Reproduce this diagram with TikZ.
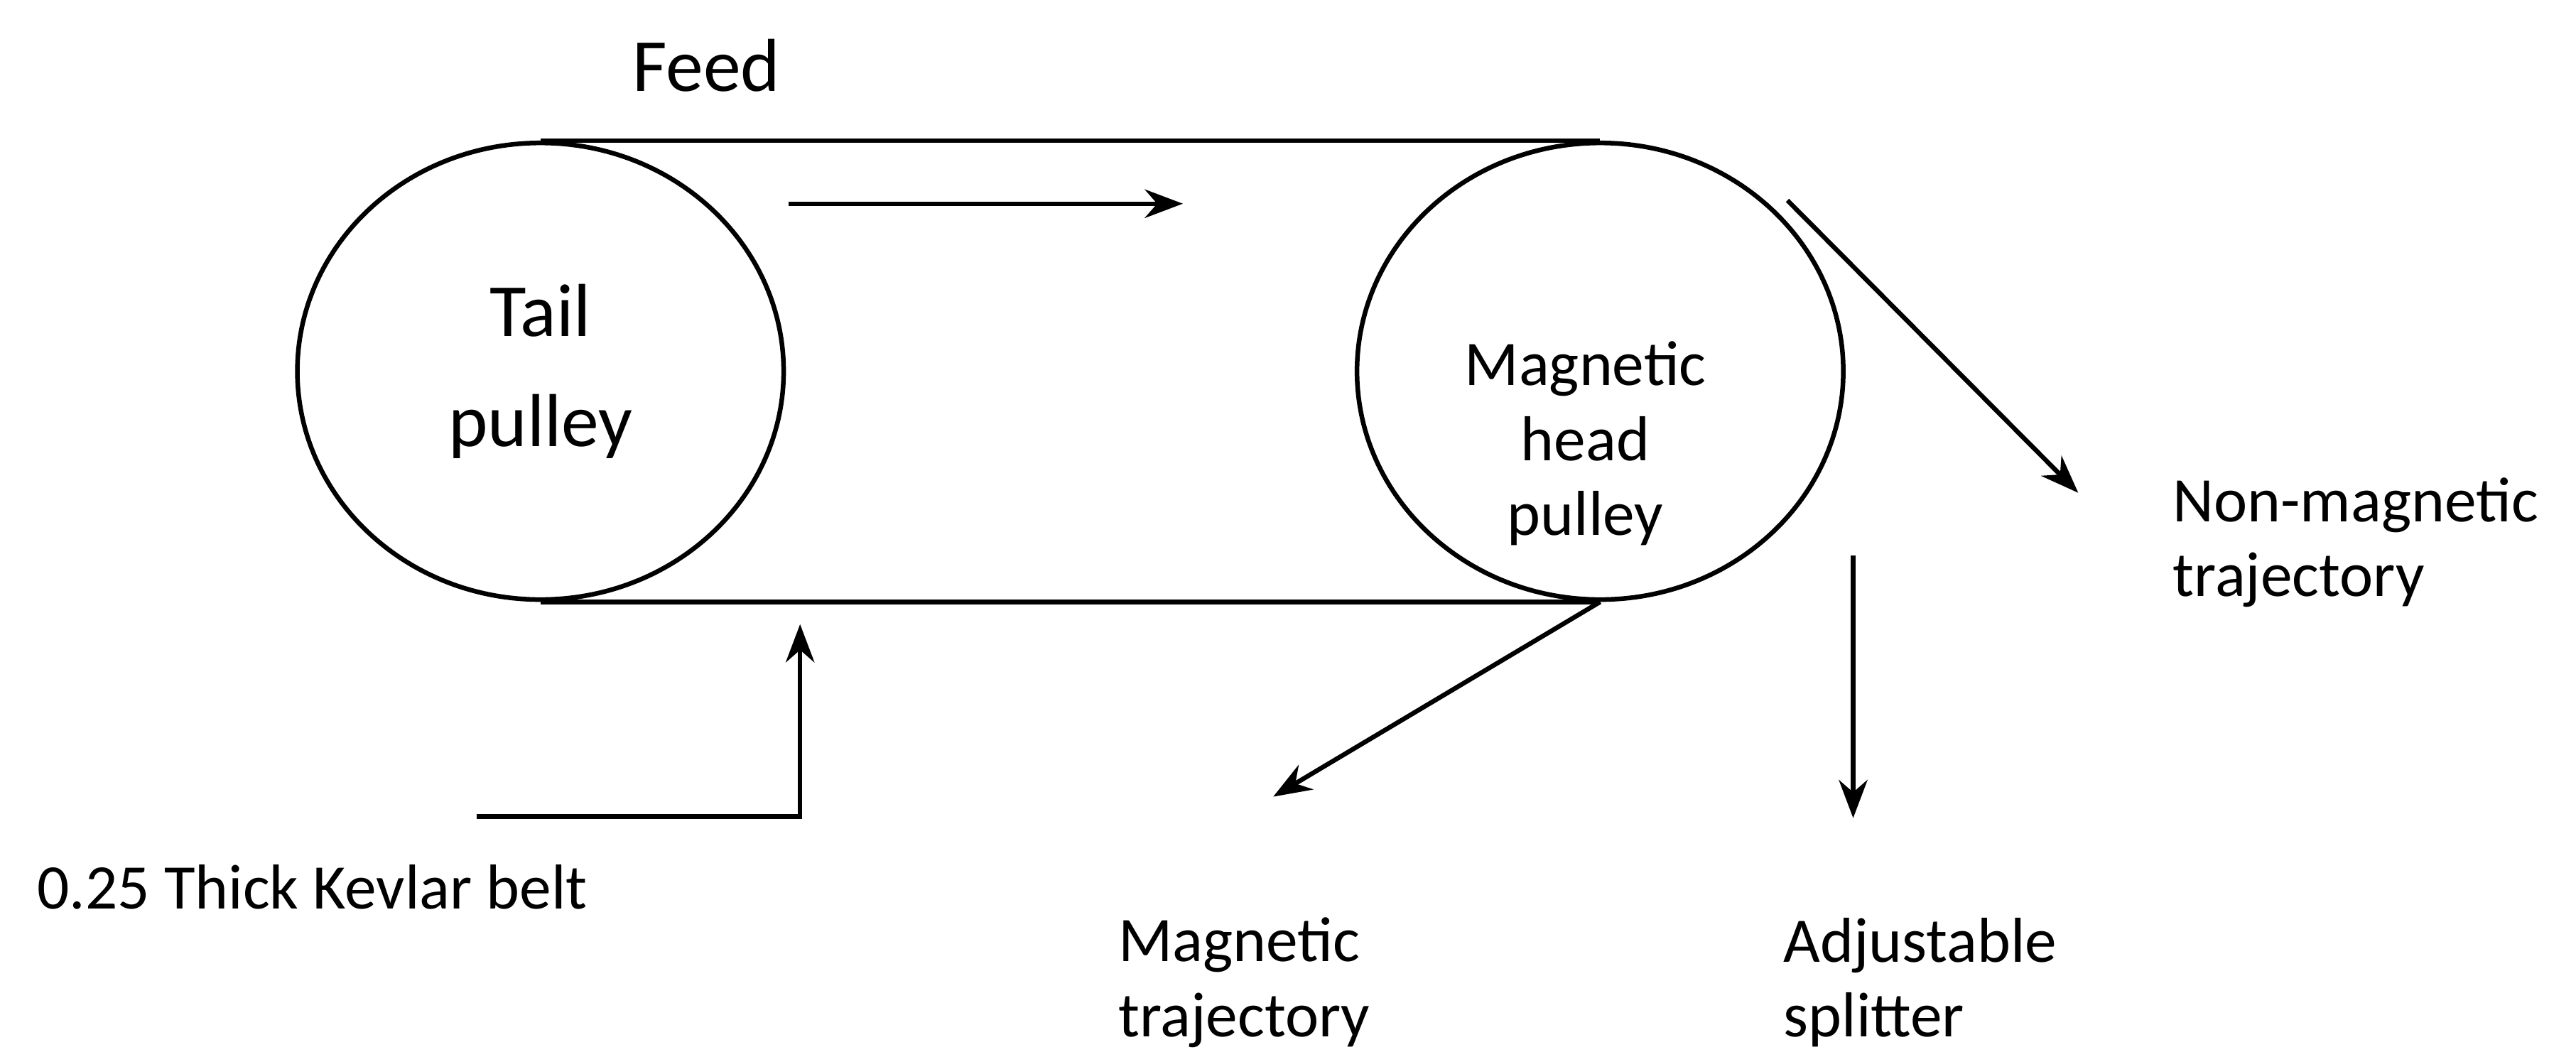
\documentclass[tikz,border=0pt]{standalone}
\usepackage{fontspec}
\setmainfont{Carlito}
\usetikzlibrary{arrows.meta, positioning, shapes.geometric}
\begin{document}
\begin{tikzpicture}[x=1cm, y=1cm,
  pulley/.style={draw, ellipse, thick, minimum width=2.96cm, minimum height=2.78cm},
  belt/.style={thick},
  flow/.style={->, >=Stealth, thick},
  lab/.style={align=left, font=\fontsize{11}{13}\selectfont, inner sep=0pt}]
\useasboundingbox (0,0) rectangle (15.68,6.40);
\node (Tail) [pulley, align=center, font=\fontsize{13}{19}\selectfont] at (3.29,4.14) {Tail\\pulley};
\node (Head) [pulley, align=center, font=\fontsize{11}{13}\selectfont] at (9.74,4.14) {};
\node (HeadTxt) [align=center, font=\fontsize{11}{13}\selectfont] at (9.65,3.70) {Magnetic\\head\\pulley};
\node (Feed) [font=\fontsize{13}{15}\selectfont] at (4.30,6.00) {Feed};
\draw[belt] (Tail.north) -- (Head.north);
\draw[belt] (Tail.south) -- (Head.south);
\coordinate (fa) at (4.80,5.16);
\coordinate (fb) at (7.20,5.16);
\draw[flow] (fa) -- (fb);
% discharge
\coordinate (top) at (10.88,5.18);
\node (NonMag) [lab, anchor=north west] at (13.22,3.50) {Non-magnetic\\trajectory};
\coordinate (nm) at (12.65,3.40);
\draw[flow] (top) -- (nm);
\node (Mag) [lab, anchor=north west] at (6.80,0.82) {Magnetic\\trajectory};
\coordinate (mg) at (7.75,1.55);
\draw[flow] (Head.south) -- (mg);
\node (Split) [lab, anchor=north west] at (10.85,0.82) {Adjustable\\splitter};
\coordinate (s1) at (11.28,3.02);
\coordinate (s2) at (11.28,1.42);
\draw[flow] (s1) -- (s2);
\node (Belt) [lab, anchor=west] at (0.22,1.00) {0.25 Thick Kevlar belt};
\coordinate (b1) at (2.90,1.43);
\coordinate (b2) at (4.87,2.60);
\draw[flow] (b1) -| (b2);
\end{tikzpicture}
\end{document}
